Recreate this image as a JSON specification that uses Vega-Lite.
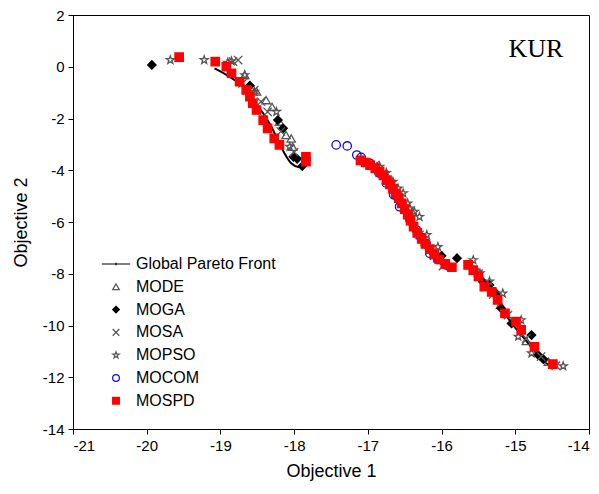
{
  "$schema": "https://vega.github.io/schema/vega-lite/v6.json",
  "width": 516,
  "height": 414,
  "autosize": {"type": "none"},
  "padding": {"left": 73, "top": 15, "right": 10, "bottom": 65},
  "background": "white",
  "config": {
    "view": {"stroke": "black", "strokeWidth": 1},
    "axis": {"grid": false, "domainColor": "black", "tickColor": "black", "labelColor": "black", "titleColor": "black", "labelFont": "Liberation Sans", "titleFont": "Liberation Sans", "labelFontSize": 15, "titleFontSize": 18, "titleFontWeight": "normal", "tickSize": 5, "labelPadding": 4},
    "legend": {"orient": "none", "legendX": 35, "legendY": 241, "labelFont": "Liberation Sans", "labelFontSize": 16, "labelColor": "black", "symbolSize": 45, "symbolStrokeWidth": 1.2, "rowPadding": 6.8, "labelOffset": 12, "padding": 0}
  },
  "datasets": {
    "pts": [
      {"series": "MODE", "x": -18.67, "y": -0.32}, {"series": "MODE", "x": -18.51, "y": -0.96}, {"series": "MODE", "x": -18.38, "y": -1.29}, {"series": "MODE", "x": -18.30, "y": -1.55}, {"series": "MODE", "x": -18.20, "y": -2.12}, {"series": "MODE", "x": -18.11, "y": -2.64}, {"series": "MODE", "x": -18.04, "y": -2.77}, {"series": "MODE", "x": -18.02, "y": -3.09},
      {"series": "MODE", "x": -16.88, "y": -3.85}, {"series": "MODE", "x": -16.62, "y": -4.8}, {"series": "MODE", "x": -16.40, "y": -5.6}, {"series": "MODE", "x": -16.22, "y": -6.75}, {"series": "MODE", "x": -16.05, "y": -7.4},
      {"series": "MODE", "x": -15.50, "y": -7.95}, {"series": "MODE", "x": -15.20, "y": -9.2}, {"series": "MODE", "x": -14.85, "y": -10.6}, {"series": "MODE", "x": -14.55, "y": -11.4},
      {"series": "MOGA", "x": -19.93, "y": 0.07}, {"series": "MOGA", "x": -18.60, "y": -0.73}, {"series": "MOGA", "x": -18.22, "y": -2.06}, {"series": "MOGA", "x": -18.15, "y": -2.38}, {"series": "MOGA", "x": -18.01, "y": -3.48}, {"series": "MOGA", "x": -17.96, "y": -3.56}, {"series": "MOGA", "x": -17.89, "y": -3.84},
      {"series": "MOGA", "x": -16.10, "y": -7.25}, {"series": "MOGA", "x": -16.00, "y": -7.30}, {"series": "MOGA", "x": -15.79, "y": -7.40},
      {"series": "MOGA", "x": -15.44, "y": -8.31}, {"series": "MOGA", "x": -15.35, "y": -8.43}, {"series": "MOGA", "x": -15.26, "y": -8.76}, {"series": "MOGA", "x": -15.19, "y": -9.34}, {"series": "MOGA", "x": -15.05, "y": -9.92}, {"series": "MOGA", "x": -14.78, "y": -10.37}, {"series": "MOGA", "x": -14.69, "y": -11.14}, {"series": "MOGA", "x": -14.62, "y": -11.30},
      {"series": "MOSA", "x": -18.83, "y": 0.20}, {"series": "MOSA", "x": -18.76, "y": 0.26}, {"series": "MOSA", "x": -18.70, "y": -0.64}, {"series": "MOSA", "x": -18.54, "y": -0.90}, {"series": "MOSA", "x": -18.45, "y": -1.35}, {"series": "MOSA", "x": -18.36, "y": -1.74}, {"series": "MOSA", "x": -18.18, "y": -2.5}, {"series": "MOSA", "x": -18.00, "y": -3.3},
      {"series": "MOSA", "x": -16.90, "y": -3.80}, {"series": "MOSA", "x": -16.60, "y": -4.95}, {"series": "MOSA", "x": -16.30, "y": -6.5}, {"series": "MOSA", "x": -16.10, "y": -7.30}, {"series": "MOSA", "x": -15.98, "y": -7.70},
      {"series": "MOSA", "x": -15.50, "y": -8.0}, {"series": "MOSA", "x": -15.30, "y": -8.8}, {"series": "MOSA", "x": -15.10, "y": -9.6}, {"series": "MOSA", "x": -14.85, "y": -10.5}, {"series": "MOSA", "x": -14.65, "y": -11.2}, {"series": "MOSA", "x": -14.45, "y": -11.55},
      {"series": "MOPSO", "x": -19.68, "y": 0.26}, {"series": "MOPSO", "x": -19.22, "y": 0.26}, {"series": "MOPSO", "x": -18.90, "y": 0.16}, {"series": "MOPSO", "x": -18.85, "y": 0.22}, {"series": "MOPSO", "x": -18.67, "y": -0.32}, {"series": "MOPSO", "x": -18.54, "y": -0.96}, {"series": "MOPSO", "x": -18.24, "y": -1.74}, {"series": "MOPSO", "x": -18.06, "y": -3.09},
      {"series": "MOPSO", "x": -16.84, "y": -3.86}, {"series": "MOPSO", "x": -16.75, "y": -4.1}, {"series": "MOPSO", "x": -16.66, "y": -4.44}, {"series": "MOPSO", "x": -16.59, "y": -4.70}, {"series": "MOPSO", "x": -16.52, "y": -4.89}, {"series": "MOPSO", "x": -16.46, "y": -5.28}, {"series": "MOPSO", "x": -16.43, "y": -5.47}, {"series": "MOPSO", "x": -16.37, "y": -5.60}, {"series": "MOPSO", "x": -16.30, "y": -5.80}, {"series": "MOPSO", "x": -16.20, "y": -6.5}, {"series": "MOPSO", "x": -16.05, "y": -6.96}, {"series": "MOPSO", "x": -15.57, "y": -7.47},
      {"series": "MOPSO", "x": -15.48, "y": -7.98}, {"series": "MOPSO", "x": -15.35, "y": -8.3}, {"series": "MOPSO", "x": -15.17, "y": -8.76}, {"series": "MOPSO", "x": -14.92, "y": -9.79}, {"series": "MOPSO", "x": -14.96, "y": -10.43}, {"series": "MOPSO", "x": -14.78, "y": -11.07}, {"series": "MOPSO", "x": -14.35, "y": -11.57},
      {"series": "MOCOM", "x": -17.43, "y": -3.02}, {"series": "MOCOM", "x": -17.28, "y": -3.06}, {"series": "MOCOM", "x": -17.15, "y": -3.41}, {"series": "MOCOM", "x": -17.09, "y": -3.50}, {"series": "MOCOM", "x": -16.97, "y": -3.73}, {"series": "MOCOM", "x": -16.85, "y": -4.1}, {"series": "MOCOM", "x": -16.75, "y": -4.50}, {"series": "MOCOM", "x": -16.65, "y": -4.95}, {"series": "MOCOM", "x": -16.57, "y": -5.41}, {"series": "MOCOM", "x": -16.43, "y": -5.92}, {"series": "MOCOM", "x": -16.34, "y": -6.31}, {"series": "MOCOM", "x": -16.28, "y": -6.6}, {"series": "MOCOM", "x": -16.21, "y": -6.82}, {"series": "MOCOM", "x": -16.16, "y": -7.21}, {"series": "MOCOM", "x": -16.05, "y": -7.45}, {"series": "MOCOM", "x": -15.94, "y": -7.66},
      {"series": "MOSPD", "x": -19.56, "y": 0.37}, {"series": "MOSPD", "x": -19.07, "y": 0.20}, {"series": "MOSPD", "x": -18.92, "y": 0.00}, {"series": "MOSPD", "x": -18.85, "y": -0.25}, {"series": "MOSPD", "x": -18.74, "y": -0.58}, {"series": "MOSPD", "x": -18.65, "y": -0.90}, {"series": "MOSPD", "x": -18.60, "y": -1.16}, {"series": "MOSPD", "x": -18.56, "y": -1.41}, {"series": "MOSPD", "x": -18.51, "y": -1.67}, {"series": "MOSPD", "x": -18.42, "y": -2.06}, {"series": "MOSPD", "x": -18.36, "y": -2.38}, {"series": "MOSPD", "x": -18.27, "y": -2.77}, {"series": "MOSPD", "x": -18.20, "y": -3.02}, {"series": "MOSPD", "x": -17.84, "y": -3.48}, {"series": "MOSPD", "x": -17.84, "y": -3.67},
      {"series": "MOSPD", "x": -17.10, "y": -3.62}, {"series": "MOSPD", "x": -17.03, "y": -3.70}, {"series": "MOSPD", "x": -16.97, "y": -3.80}, {"series": "MOSPD", "x": -16.90, "y": -3.92}, {"series": "MOSPD", "x": -16.84, "y": -4.05}, {"series": "MOSPD", "x": -16.79, "y": -4.20}, {"series": "MOSPD", "x": -16.74, "y": -4.38}, {"series": "MOSPD", "x": -16.70, "y": -4.55}, {"series": "MOSPD", "x": -16.66, "y": -4.72}, {"series": "MOSPD", "x": -16.62, "y": -4.90}, {"series": "MOSPD", "x": -16.58, "y": -5.08}, {"series": "MOSPD", "x": -16.54, "y": -5.28}, {"series": "MOSPD", "x": -16.50, "y": -5.50}, {"series": "MOSPD", "x": -16.46, "y": -5.72}, {"series": "MOSPD", "x": -16.42, "y": -5.95}, {"series": "MOSPD", "x": -16.38, "y": -6.18}, {"series": "MOSPD", "x": -16.33, "y": -6.42}, {"series": "MOSPD", "x": -16.27, "y": -6.65}, {"series": "MOSPD", "x": -16.22, "y": -6.85}, {"series": "MOSPD", "x": -16.16, "y": -7.05}, {"series": "MOSPD", "x": -16.10, "y": -7.25}, {"series": "MOSPD", "x": -16.03, "y": -7.45}, {"series": "MOSPD", "x": -15.95, "y": -7.62}, {"series": "MOSPD", "x": -15.86, "y": -7.75},
      {"series": "MOSPD", "x": -15.64, "y": -7.66}, {"series": "MOSPD", "x": -15.57, "y": -7.86}, {"series": "MOSPD", "x": -15.50, "y": -8.1}, {"series": "MOSPD", "x": -15.42, "y": -8.50}, {"series": "MOSPD", "x": -15.32, "y": -8.7}, {"series": "MOSPD", "x": -15.24, "y": -9.01}, {"series": "MOSPD", "x": -15.14, "y": -9.53}, {"series": "MOSPD", "x": -14.99, "y": -9.85}, {"series": "MOSPD", "x": -14.92, "y": -10.17}, {"series": "MOSPD", "x": -14.74, "y": -10.82}, {"series": "MOSPD", "x": -14.49, "y": -11.49}
    ],
    "front": [
      {"seg": 1, "x": -19.08, "y": -0.06}, {"seg": 1, "x": -18.88, "y": -0.38}, {"seg": 1, "x": -18.70, "y": -0.77}, {"seg": 1, "x": -18.56, "y": -1.29}, {"seg": 1, "x": -18.42, "y": -1.80}, {"seg": 1, "x": -18.31, "y": -2.32}, {"seg": 1, "x": -18.22, "y": -2.83}, {"seg": 1, "x": -18.13, "y": -3.35}, {"seg": 1, "x": -18.04, "y": -3.73}, {"seg": 1, "x": -17.93, "y": -3.89},
      {"seg": 2, "x": -17.07, "y": -3.73}, {"seg": 2, "x": -16.84, "y": -4.18}, {"seg": 2, "x": -16.70, "y": -4.64}, {"seg": 2, "x": -16.59, "y": -5.15}, {"seg": 2, "x": -16.50, "y": -5.66}, {"seg": 2, "x": -16.43, "y": -5.99}, {"seg": 2, "x": -16.37, "y": -6.44}, {"seg": 2, "x": -16.27, "y": -6.82}, {"seg": 2, "x": -16.16, "y": -7.21}, {"seg": 2, "x": -16.02, "y": -7.60}, {"seg": 2, "x": -15.91, "y": -7.79},
      {"seg": 3, "x": -15.62, "y": -7.73}, {"seg": 3, "x": -15.44, "y": -8.37}, {"seg": 3, "x": -15.26, "y": -9.01}, {"seg": 3, "x": -15.08, "y": -9.79}, {"seg": 3, "x": -14.90, "y": -10.43}, {"seg": 3, "x": -14.71, "y": -11.07}, {"seg": 3, "x": -14.58, "y": -11.46}, {"seg": 3, "x": -14.44, "y": -11.59}
    ],
    "label": [{"x": -14.72, "y": 0.69, "text": "KUR"}]
  },
  "layer": [
    {
      "data": {"name": "front"},
      "mark": {"type": "line", "color": "black", "strokeWidth": 2, "interpolate": "monotone"},
      "encoding": {
        "x": {"field": "x", "type": "quantitative", "scale": {"domain": [-21, -14], "nice": false, "zero": false},
              "axis": {"title": "Objective 1", "values": [-21, -20.5, -20, -19.5, -19, -18.5, -18, -17.5, -17, -16.5, -16, -15.5, -15, -14.5, -14], "labelExpr": "datum.value % 1 === 0 ? '' + datum.value : ''", "titlePadding": 9}},
        "y": {"field": "y", "type": "quantitative", "scale": {"domain": [-14, 2], "nice": false, "zero": false},
              "axis": {"title": "Objective 2", "values": [-14, -13, -12, -11, -10, -9, -8, -7, -6, -5, -4, -3, -2, -1, 0, 1, 2], "labelExpr": "datum.value % 2 === 0 ? '' + datum.value : ''", "titlePadding": 12}},
        "detail": {"field": "seg", "type": "nominal"}
      }
    },
    {
      "data": {"name": "pts"},
      "mark": {"type": "point", "size": 70, "strokeWidth": 1.3, "opacity": 1},
      "encoding": {
        "x": {"field": "x", "type": "quantitative"},
        "y": {"field": "y", "type": "quantitative"},
        "shape": {"field": "series", "type": "nominal",
          "scale": {"domain": ["Global Pareto Front", "MODE", "MOGA", "MOSA", "MOPSO", "MOCOM", "MOSPD"],
                    "range": ["M-4.2,0L4.2,0M0,-0.4L0,0.4", "triangle-up", "diamond", "M-1,-1L1,1M-1,1L1,-1", "M0,-1L0.235,-0.324L0.951,-0.309L0.380,0.124L0.588,0.809L0,0.4L-0.588,0.809L-0.380,0.124L-0.951,-0.309L-0.235,-0.324Z", "circle", "square"]},
          "legend": {"title": null}},
        "stroke": {"field": "series", "type": "nominal",
          "scale": {"domain": ["Global Pareto Front", "MODE", "MOGA", "MOSA", "MOPSO", "MOCOM", "MOSPD"],
                    "range": ["#000000", "#555555", "#000000", "#555555", "#555555", "#0a0ae6", "#ff0000"]},
          "legend": {"title": null}},
        "fill": {"field": "series", "type": "nominal",
          "scale": {"domain": ["Global Pareto Front", "MODE", "MOGA", "MOSA", "MOPSO", "MOCOM", "MOSPD"],
                    "range": ["transparent", "transparent", "#000000", "transparent", "transparent", "transparent", "#ff0000"]},
          "legend": {"title": null}}
      }
    },
    {
      "data": {"name": "label"},
      "mark": {"type": "text", "font": "Liberation Serif", "fontSize": 26, "color": "black"},
      "encoding": {
        "x": {"field": "x", "type": "quantitative"},
        "y": {"field": "y", "type": "quantitative"},
        "text": {"field": "text", "type": "nominal"}
      }
    }
  ]
}
